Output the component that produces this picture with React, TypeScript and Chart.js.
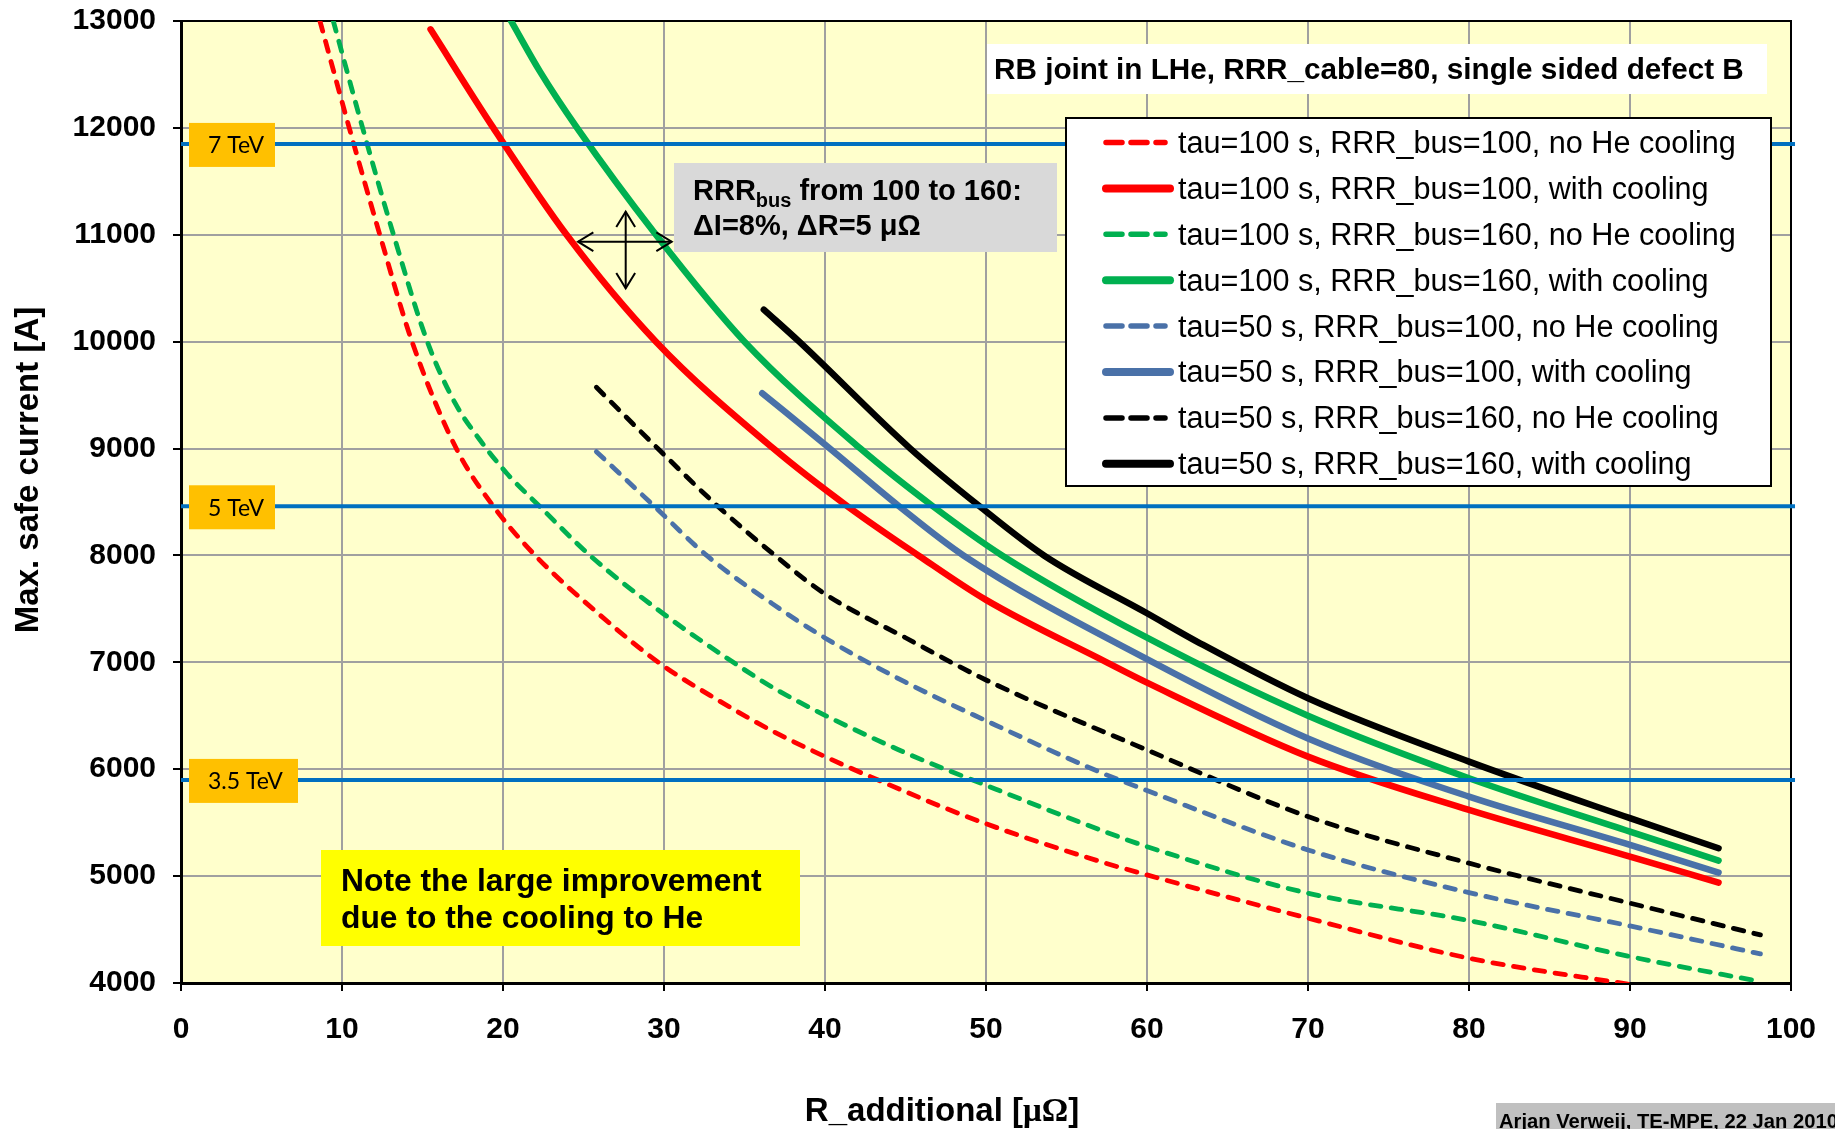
import React, { useEffect, useRef } from 'react';
import { Chart, registerables } from 'chart.js';

Chart.register(...registerables);

// ---------------- data ----------------
const xTickValues = [0, 10, 20, 30, 40, 50, 60, 70, 80, 90, 100];
const yTickValues = [4000, 5000, 6000, 7000, 8000, 9000, 10000, 11000, 12000, 13000];

const seriesLabels = [
  'tau=100 s, RRR_bus=100, no He cooling',
  'tau=100 s, RRR_bus=100, with cooling',
  'tau=100 s, RRR_bus=160, no He cooling',
  'tau=100 s, RRR_bus=160, with cooling',
  'tau=50 s, RRR_bus=100, no He cooling',
  'tau=50 s, RRR_bus=100, with cooling',
  'tau=50 s, RRR_bus=160, no He cooling',
  'tau=50 s, RRR_bus=160, with cooling',
];

const t100b100NoHeX = [8.63, 10.45, 12.35, 14.35, 17.1, 19.4, 22.0, 26.0, 29.65, 33.2, 37.2, 45, 50, 57.1, 60, 70, 80, 90.5];
const t100b100NoHeY = [13000, 12000, 11000, 10000, 9000, 8460, 8000, 7446, 7000, 6660, 6321, 5790, 5490, 5136, 5011, 4606, 4232, 3975];

const t100b100CoolX = [15.5, 19.4, 23.95, 29.5, 36.8, 41.4, 45.8, 50, 57.5, 60, 70, 80, 90, 95.5];
const t100b100CoolY = [12922, 12000, 11000, 10000, 9000, 8460, 8000, 7584, 7000, 6810, 6118, 5619, 5183, 4939];

const t100b160NoHeX = [9.46, 11.28, 13.2, 15.3, 17.02, 18.57, 20.23, 22.3, 25.4, 30, 34.3, 37.2, 44.6, 50, 57.1, 60, 70, 80, 90, 98.1];
const t100b160NoHeY = [13000, 12000, 11000, 10000, 9427, 9080, 8769, 8456, 8000, 7450, 7000, 6726, 6180, 5850, 5432, 5276, 4840, 4584, 4247, 4013];

const t100b160CoolX = [20.5, 22.3, 24.6, 29.5, 35.0, 42.2, 46.7, 51.0, 60, 70, 80, 90, 95.5];
const t100b160CoolY = [13000, 12526, 12000, 11000, 10000, 9000, 8460, 8000, 7230, 6500, 5916, 5416, 5145];

const t50b100NoHeX = [25.8, 29.4, 32.65, 37.2, 40, 45, 50, 57.1, 60, 70, 80, 90, 98.1];
const t50b100NoHeY = [8971, 8460, 8000, 7500, 7228, 6814, 6454, 5971, 5800, 5245, 4846, 4534, 4272];

const t50b100CoolX = [36.1, 40.3, 44.6, 48.6, 60, 70, 80, 90, 95.5];
const t50b100CoolY = [9518, 9000, 8460, 8000, 7030, 6288, 5744, 5292, 5033];

const t50b160NoHeX = [25.8, 29.6, 33.3, 36.7, 40, 45, 50, 60, 70, 80, 90, 98.1];
const t50b160NoHeY = [9573, 9003, 8466, 8024, 7640, 7230, 6835, 6180, 5557, 5121, 4747, 4450];

const t50b160CoolX = [36.2, 38.4, 45.3, 49.6, 53.6, 60, 63.3, 70, 80, 90, 95.5];
const t50b160CoolY = [10300, 10000, 9000, 8460, 8000, 7459, 7178, 6664, 6071, 5542, 5261];

const energyLevels = [11850, 8460, 5900];
const energyLabels = ['7 TeV', '5 TeV', '3.5 TeV'];

const chartTitle = 'RB joint in LHe, RRR_cable=80, single sided defect B';
const xAxisTitle = ['R_additional [', 'μΩ', ']'];
const yAxisTitle = 'Max. safe current [A]';
const noteLines = ['Note the large improvement', 'due to the cooling to He'];
const rrrNote = ['RRR', 'bus', ' from 100 to 160:', 'ΔI=8%, ΔR=5 μΩ'];
const footerText = 'Arjan Verweij, TE-MPE, 22 Jan 2010';

// ---------------- styling ----------------
const SANS = '"Liberation Sans", Arial, sans-serif';
const SERIF = '"Liberation Serif", "Times New Roman", serif';
const AREA = { left: 181, top: 21, right: 1791, bottom: 983 };
const seriesStyles = [
  { color: '#ff0000', dashed: true },
  { color: '#ff0000', dashed: false },
  { color: '#00b050', dashed: true },
  { color: '#00b050', dashed: false },
  { color: '#4a71a8', dashed: true },
  { color: '#4a71a8', dashed: false },
  { color: '#000000', dashed: true },
  { color: '#000000', dashed: false },
];

const allX = [t100b100NoHeX, t100b100CoolX, t100b160NoHeX, t100b160CoolX, t50b100NoHeX, t50b100CoolX, t50b160NoHeX, t50b160CoolX];
const allY = [t100b100NoHeY, t100b100CoolY, t100b160NoHeY, t100b160CoolY, t50b100NoHeY, t50b100CoolY, t50b160NoHeY, t50b160CoolY];

function arrowHead(ctx: CanvasRenderingContext2D, x: number, y: number, back: number, len: number, spread: number) {
  ctx.beginPath();
  ctx.moveTo(x + len * Math.cos(back + spread), y + len * Math.sin(back + spread));
  ctx.lineTo(x, y);
  ctx.lineTo(x + len * Math.cos(back - spread), y + len * Math.sin(back - spread));
  ctx.stroke();
}

const decorPlugin = {
  id: 'decor',
  beforeDraw(chart: any) {
    const { ctx, chartArea: a } = chart;
    ctx.save();
    ctx.fillStyle = '#ffffff';
    ctx.fillRect(0, 0, chart.width, chart.height);
    ctx.fillStyle = '#ffffcc';
    ctx.fillRect(a.left, a.top, a.right - a.left, a.bottom - a.top);
    ctx.restore();
  },
  beforeDatasetsDraw(chart: any) {
    const { ctx, chartArea: a } = chart;
    ctx.save();
    ctx.strokeStyle = '#000';
    ctx.lineWidth = 2;
    ctx.beginPath();
    ctx.moveTo(a.left, a.top);
    ctx.lineTo(a.right, a.top);
    ctx.lineTo(a.right, a.bottom);
    ctx.stroke();
    ctx.restore();
  },
  afterDatasetsDraw(chart: any) {
    const { ctx } = chart;
    const yScale = chart.scales.y;
    ctx.save();

    // energy labels
    const boxW = [86, 86, 109];
    energyLevels.forEach((lv, i) => {
      const yy = yScale.getPixelForValue(lv);
      ctx.fillStyle = '#ffc000';
      ctx.fillRect(189, yy - 21, boxW[i], 44);
      ctx.fillStyle = '#000';
      ctx.font = '23px Lato, "Noto Sans", sans-serif';
      ctx.textBaseline = 'middle';
      ctx.textAlign = 'left';
      ctx.fillText(energyLabels[i], 208, yy + 2);
    });

    // gray RRR note
    ctx.fillStyle = '#d9d9d9';
    ctx.fillRect(674, 163, 383, 89);
    ctx.fillStyle = '#000';
    ctx.textBaseline = 'alphabetic';
    let x = 693;
    ctx.font = `bold 29px ${SANS}`;
    ctx.fillText(rrrNote[0], x, 200);
    x += ctx.measureText(rrrNote[0]).width;
    ctx.font = `bold 20px ${SANS}`;
    ctx.fillText(rrrNote[1], x, 207);
    x += ctx.measureText(rrrNote[1]).width;
    ctx.font = `bold 29px ${SANS}`;
    ctx.fillText(rrrNote[2], x, 200);
    ctx.fillText(rrrNote[3], 693, 235);

    // arrows
    ctx.strokeStyle = '#000';
    ctx.lineWidth = 2;
    ctx.beginPath();
    ctx.moveTo(578, 241.7);
    ctx.lineTo(671.7, 241.7);
    ctx.moveTo(625.7, 211.7);
    ctx.lineTo(625.7, 288.3);
    ctx.stroke();
    arrowHead(ctx, 578, 241.7, 0, 18, 0.55);
    arrowHead(ctx, 671.7, 241.7, Math.PI, 18, 0.55);
    arrowHead(ctx, 625.7, 211.7, Math.PI / 2, 18, 0.55);
    arrowHead(ctx, 625.7, 288.3, -Math.PI / 2, 18, 0.55);

    // yellow note
    ctx.fillStyle = '#ffff00';
    ctx.fillRect(321, 850, 479, 96);
    ctx.fillStyle = '#000';
    ctx.font = `bold 31.8px ${SANS}`;
    ctx.fillText(noteLines[0], 341, 891);
    ctx.fillText(noteLines[1], 341, 928);

    // title box
    ctx.fillStyle = '#ffffff';
    ctx.fillRect(987, 44, 780, 50);
    ctx.fillStyle = '#000';
    ctx.font = `bold 29.7px ${SANS}`;
    ctx.fillText(chartTitle, 994, 79);

    // legend
    ctx.fillStyle = '#ffffff';
    ctx.fillRect(1066, 118, 705, 368);
    ctx.strokeStyle = '#000';
    ctx.lineWidth = 2;
    ctx.strokeRect(1066, 118, 705, 368);
    const legendSets = chart.data.datasets.filter((d: any) => d.inLegend);
    legendSets.forEach((d: any, i: number) => {
      const yy = 142.5 + i * 45.9;
      ctx.strokeStyle = d.borderColor;
      ctx.lineCap = 'round';
      if (d.borderDash && d.borderDash.length) {
        ctx.lineWidth = 5.5;
        ctx.setLineDash([16, 9]);
        ctx.beginPath();
        ctx.moveTo(1106, yy);
        ctx.lineTo(1165, yy);
        ctx.stroke();
      } else {
        ctx.lineWidth = 8;
        ctx.setLineDash([]);
        ctx.beginPath();
        ctx.moveTo(1106, yy);
        ctx.lineTo(1170, yy);
        ctx.stroke();
      }
      ctx.setLineDash([]);
      ctx.fillStyle = '#000';
      ctx.font = `30.6px ${SANS}`;
      ctx.textBaseline = 'middle';
      ctx.fillText(d.label, 1178, yy + 2);
    });
    ctx.restore();
  },
  afterDraw(chart: any) {
    const { ctx } = chart;
    ctx.save();
    ctx.fillStyle = '#000';
    ctx.textBaseline = 'alphabetic';
    // x axis title
    const f1 = `bold 33px ${SANS}`;
    const f2 = `bold 33px ${SERIF}`;
    ctx.font = f1;
    const w0 = ctx.measureText(xAxisTitle[0]).width;
    const w2 = ctx.measureText(xAxisTitle[2]).width;
    ctx.font = f2;
    const w1 = ctx.measureText(xAxisTitle[1]).width;
    let x = 942 - (w0 + w1 + w2) / 2;
    ctx.font = f1;
    ctx.textAlign = 'left';
    ctx.fillText(xAxisTitle[0], x, 1121);
    x += w0;
    ctx.font = f2;
    ctx.fillText(xAxisTitle[1], x, 1121);
    x += w1;
    ctx.font = f1;
    ctx.fillText(xAxisTitle[2], x, 1121);

    // y axis title
    ctx.save();
    ctx.translate(38, 470);
    ctx.rotate(-Math.PI / 2);
    ctx.textAlign = 'center';
    ctx.font = `bold 33px ${SANS}`;
    ctx.fillText(yAxisTitle, 0, 0);
    ctx.restore();

    // footer
    ctx.fillStyle = '#c0c0c0';
    ctx.fillRect(1496, 1103, 339, 26);
    ctx.fillStyle = '#000';
    ctx.textAlign = 'left';
    ctx.font = `bold 20.2px ${SANS}`;
    ctx.fillText(footerText, 1499, 1128);
    ctx.restore();
  },
};

export default function App() {
  const ref = useRef<HTMLCanvasElement>(null);

  useEffect(() => {
    document.body.style.margin = '0';
    const canvas = ref.current;
    if (!canvas) return;

    const curveSets = allX.map((xs, i) => {
      const st = seriesStyles[i];
      return {
        label: seriesLabels[i],
        inLegend: true,
        data: xs.map((xv, j) => ({ x: xv, y: allY[i][j] })),
        borderColor: st.color,
        backgroundColor: st.color,
        borderWidth: st.dashed ? 4.8 : 6.5,
        borderDash: st.dashed ? [10.5, 10.5] : [],
        borderCapStyle: 'round',
        borderJoinStyle: 'round',
        pointRadius: 0,
        pointHoverRadius: 0,
        cubicInterpolationMode: 'monotone',
        fill: false,
        order: 1,
      };
    });

    const energySets = energyLevels.map((lv, i) => ({
      label: energyLabels[i],
      inLegend: false,
      data: [{ x: 0, y: lv }, { x: 100.25, y: lv }],
      borderColor: '#0070c0',
      backgroundColor: '#0070c0',
      borderWidth: 4,
      pointRadius: 0,
      fill: false,
      clip: false,
      order: 0,
    }));

    const chart = new Chart(canvas, {
      type: 'line',
      data: { datasets: [...curveSets, ...energySets] as any },
      options: {
        responsive: false,
        animation: false,
        events: [],
        layout: { padding: { left: 0, right: 44, top: 21, bottom: 0 } },
        plugins: {
          legend: { display: false },
          title: { display: false },
          tooltip: { enabled: false },
        },
        scales: {
          x: {
            type: 'linear',
            min: 0,
            max: 100,
            afterBuildTicks: (s: any) => {
              s.ticks = xTickValues.map((v) => ({ value: v }));
            },
            afterFit: (s: any) => {
              s.height = 146;
              s.paddingLeft = 0;
              s.paddingRight = 0;
            },
            ticks: {
              color: '#000',
              font: { family: SANS, size: 30, weight: 'bold' },
              padding: 21,
              maxRotation: 0,
              autoSkip: false,
              callback: (v: any) => String(v),
            },
            grid: {
              color: '#a0a0a0',
              lineWidth: 2,
              tickColor: '#000',
              tickLength: 8,
              tickWidth: 2,
              drawTicks: true,
            },
            border: { color: '#000', width: 3 },
          },
          y: {
            type: 'linear',
            min: 4000,
            max: 13000,
            afterBuildTicks: (s: any) => {
              s.ticks = yTickValues.map((v) => ({ value: v }));
            },
            afterFit: (s: any) => {
              s.width = 181;
              s.paddingTop = 0;
              s.paddingBottom = 0;
            },
            ticks: {
              color: '#000',
              font: { family: SANS, size: 30, weight: 'bold' },
              padding: 17,
              autoSkip: false,
              callback: (v: any) => String(v),
            },
            grid: {
              color: '#a0a0a0',
              lineWidth: 2,
              tickColor: '#000',
              tickLength: 8,
              tickWidth: 2,
              drawTicks: true,
            },
            border: { color: '#000', width: 3 },
          },
        },
      } as any,
      plugins: [decorPlugin],
    });

    // nudge the layout padding so the plot area lands where the reference has it
    for (let k = 0; k < 4; k++) {
      const ca = chart.chartArea;
      const p: any = (chart.options as any).layout.padding;
      const dt = AREA.top - ca.top;
      const db = ca.bottom - AREA.bottom;
      const dl = AREA.left - ca.left;
      const dr = ca.right - AREA.right;
      if (Math.abs(dt) < 0.5 && Math.abs(db) < 0.5 && Math.abs(dl) < 0.5 && Math.abs(dr) < 0.5) break;
      p.top += dt;
      p.bottom += db;
      p.left += dl;
      p.right += dr;
      chart.update();
    }

    return () => chart.destroy();
  }, []);

  return (
    <div style={{ width: 1835, height: 1129, position: 'relative' }}>
      <canvas ref={ref} width={1835} height={1129} style={{ width: 1835, height: 1129, display: 'block' }} />
    </div>
  );
}
